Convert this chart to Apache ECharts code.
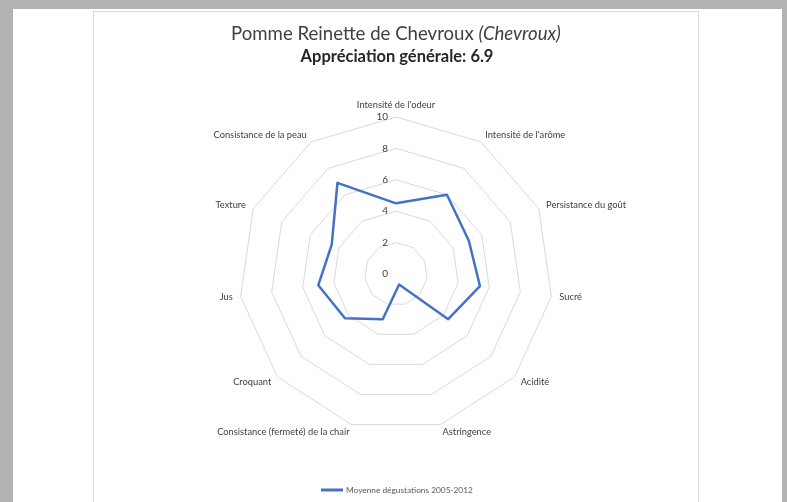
<!DOCTYPE html>
<html>
<head>
<meta charset="utf-8">
<script src="https://cdn.jsdelivr.net/npm/echarts@6/dist/echarts.min.js"></script>
<style>
  body { margin: 0; background: #b3b3b3; overflow: hidden; }
  .sheet { position: absolute; left: 13px; top: 9px; width: 769px; height: 493px; background: #fff; }
  .frame { position: absolute; left: 93px; top: 11px; width: 604px; height: 500px; border: 1px solid #d9d9d9; }
  #chart { position: absolute; left: 0; top: 0; width: 787px; height: 502px; }
</style>
</head>
<body>
<div class="sheet"></div>
<div class="frame"></div>
<div id="chart"></div>
<script>
// criteria, clockwise from the top
const criteria = [
  "Intensité de l'odeur",
  "Intensité de l'arôme",
  'Persistance du goût',
  'Sucré',
  'Acidité',
  'Astringence',
  'Consistance (fermeté) de la chair',
  'Croquant',
  'Jus',
  'Texture',
  'Consistance de la peau'
];
const moyenne = [4.5, 6.0, 5.1, 5.4, 4.4, 0.7, 3.0, 4.3, 5.0, 4.5, 6.9];
const seriesName = 'Moyenne dégustations 2005-2012';
const scaleMax = 10;

// echarts lays indicators out counter-clockwise, keep the first one on top and flip the rest
const order = [0].concat(criteria.map((c, i) => i).slice(1).reverse());

const indicator = order.map((i, k) => {
  const ind = { name: criteria[i], min: 0, max: scaleMax };
  if (k === 0) {
    ind.axisLabel = { show: true };
  }
  return ind;
});

const chart = echarts.init(document.getElementById('chart'));
chart.setOption({
  animation: false,
  textStyle: { fontFamily: 'Lato' },
  title: [
    {
      left: 391,
      top: 19,
      textAlign: 'center',
      text: '{a|Pomme Reinette de Chevroux }{b|(Chevroux)}',
      textStyle: {
        fontWeight: 'normal',
        rich: {
          a: { fontFamily: 'Lato', fontSize: 18.6, fontWeight: 'normal', color: '#404040' },
          b: { fontFamily: 'Lato', fontSize: 18.6, fontWeight: 'normal', fontStyle: 'italic', color: '#404040' }
        }
      }
    },
    {
      left: 392,
      top: 43,
      textAlign: 'center',
      text: 'Appréciation générale: 6.9',
      textStyle: { fontFamily: 'Lato', fontSize: 16.5, fontWeight: 'bold', color: '#262626' }
    }
  ],
  legend: {
    left: 316,
    top: 481,
    itemWidth: 22,
    itemHeight: 3,
    itemGap: 4,
    icon: 'rect',
    textStyle: { fontFamily: 'Lato', fontSize: 8.3, color: '#595959', padding: [0, 0, 0, -2] },
    data: [seriesName]
  },
  radar: {
    center: [396, 274],
    radius: 157,
    startAngle: 90,
    splitNumber: 5,
    shape: 'polygon',
    nameGap: 8,
    axisName: { color: '#404040', fontSize: 9.3, fontFamily: 'Lato' },
    axisLine: { show: false },
    axisTick: { show: false },
    axisLabel: { show: false, color: '#404040', fontSize: 10, margin: 8 },
    splitLine: { lineStyle: { color: '#d9d9d9', width: 1 } },
    splitArea: { show: false },
    indicator: indicator
  },
  series: [{
    type: 'radar',
    name: seriesName,
    symbol: 'none',
    lineStyle: { color: '#4472c4', width: 2.5 },
    itemStyle: { color: '#4472c4' },
    data: [{ name: seriesName, value: order.map(i => moyenne[i]) }]
  }]
});
</script>
</body>
</html>
